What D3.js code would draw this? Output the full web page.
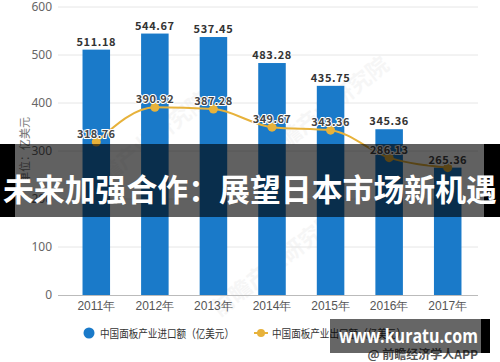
<!DOCTYPE html>
<html>
<head>
<meta charset="utf-8">
<script src="https://cdn.jsdelivr.net/npm/d3@7/dist/d3.min.js"></script>
<style>
  body { margin: 0; background: #fff; }
  svg { display: block; font-family: "Noto Sans CJK SC", "Noto Sans", sans-serif; }
</style>
</head>
<body>
<svg id="chart" width="500" height="362"></svg>
<script>
// data
const years = ["2011年", "2012年", "2013年", "2014年", "2015年", "2016年", "2017年"];
const importVals = [511.18, 544.67, 537.45, 483.28, 435.75, 345.36, 265.36];
const exportVals = [318.76, 390.92, 387.28, 349.67, 343.36, 286.13, 265.36];
const yTicks = [0, 100, 200, 300, 400, 500, 600];

const barColor = "#1a7ac9";
const lineColor = "#e7b23b";

const svg = d3.select("#chart");

const x = d3.scaleBand().domain(years).range([67, 477]).paddingInner(0.53).paddingOuter(0.265);
const y = d3.scaleLinear().domain([0, 600]).range([295, 7]);

// faint watermarks
[[150, 150], [330, 115], [280, 270]].forEach(function (p) {
  svg.append("text")
    .attr("transform", "translate(" + p[0] + "," + p[1] + ") rotate(-38)")
    .attr("text-anchor", "middle")
    .attr("font-size", 22)
    .attr("font-weight", "bold")
    .attr("fill", "#000")
    .attr("opacity", 0.03)
    .text("前瞻产业研究院");
});

// grid
svg.append("g").selectAll("line")
  .data(yTicks.filter(d => d > 0))
  .enter().append("line")
  .attr("x1", 58).attr("x2", 478)
  .attr("y1", d => y(d)).attr("y2", d => y(d))
  .attr("stroke", "#e6e6e6");

// y axis labels
const yAxis = d3.axisLeft(y).tickValues(yTicks).tickSize(0).tickPadding(6);
svg.append("g")
  .attr("transform", "translate(58,0)")
  .call(yAxis)
  .call(g => g.select(".domain").remove())
  .selectAll("text")
  .attr("font-size", 12)
  .attr("fill", "#666")
  .attr("font-family", "Noto Sans, sans-serif");

svg.append("text")
  .attr("transform", "translate(24,150) rotate(-90)")
  .attr("text-anchor", "middle")
  .attr("dominant-baseline", "central")
  .attr("font-size", 11)
  .attr("fill", "#777")
  .text("单位：亿美元");

// x axis
const xAxis = d3.axisBottom(x).tickSize(0).tickPadding(6);
svg.append("g")
  .attr("transform", "translate(0,295)")
  .call(xAxis)
  .call(g => g.select(".domain").attr("d", "M58,0.5H478").attr("stroke", "#bbb"))
  .selectAll("text")
  .attr("font-size", 12)
  .attr("fill", "#555");

// bars
svg.append("g").selectAll("rect")
  .data(importVals)
  .enter().append("rect")
  .attr("x", (d, i) => x(years[i]))
  .attr("width", x.bandwidth())
  .attr("y", d => y(d))
  .attr("height", d => y(0) - y(d))
  .attr("fill", barColor);

svg.append("g").selectAll("text")
  .data(importVals)
  .enter().append("text")
  .attr("x", (d, i) => x(years[i]) + x.bandwidth() / 2)
  .attr("y", d => y(d) - 9)
  .attr("text-anchor", "middle")
  .attr("dominant-baseline", "central")
  .attr("font-size", 11)
  .attr("font-weight", "bold")
  .attr("fill", "#333")
  .attr("letter-spacing", 0.6)
  .text(d => d.toFixed(2));

// line
const cx = i => x(years[i]) + x.bandwidth() / 2;
const line = d3.line()
  .x((d, i) => cx(i))
  .y(d => y(d))
  .curve(d3.curveMonotoneX);

svg.append("path")
  .datum(exportVals)
  .attr("d", line)
  .attr("fill", "none")
  .attr("stroke", lineColor)
  .attr("stroke-width", 2);

svg.append("g").selectAll("circle")
  .data(exportVals)
  .enter().append("circle")
  .attr("cx", (d, i) => cx(i))
  .attr("cy", d => y(d))
  .attr("r", 4.5)
  .attr("fill", lineColor);

svg.append("g").selectAll("text")
  .data(exportVals)
  .enter().append("text")
  .attr("x", (d, i) => cx(i))
  .attr("y", d => y(d) - 9)
  .attr("text-anchor", "middle")
  .attr("dominant-baseline", "central")
  .attr("font-size", 11)
  .attr("font-weight", "bold")
  .attr("fill", "#444")
  .attr("stroke", "#fff")
  .attr("stroke-width", 2)
  .attr("paint-order", "stroke")
  .attr("letter-spacing", 0.4)
  .text(d => d.toFixed(2));

// legend
svg.append("circle").attr("cx", 89).attr("cy", 333).attr("r", 5.5).attr("fill", barColor);
svg.append("text").attr("x", 100).attr("y", 333).attr("dominant-baseline", "central")
  .attr("font-size", 11.5).attr("fill", "#333")
  .attr("textLength", 134).attr("lengthAdjust", "spacingAndGlyphs")
  .text("中国面板产业进口额（亿美元）");
svg.append("line").attr("x1", 254).attr("x2", 268).attr("y1", 333).attr("y2", 333)
  .attr("stroke", lineColor).attr("stroke-width", 2);
svg.append("circle").attr("cx", 261).attr("cy", 333).attr("r", 4).attr("fill", lineColor);
svg.append("text").attr("x", 272).attr("y", 333).attr("dominant-baseline", "central")
  .attr("font-size", 11.5).attr("fill", "#333")
  .attr("textLength", 134).attr("lengthAdjust", "spacingAndGlyphs")
  .text("中国面板产业出口额（亿美元）");

// source
svg.append("text").attr("x", 478).attr("y", 353).attr("text-anchor", "end")
  .attr("dominant-baseline", "central")
  .attr("font-size", 12).attr("font-weight", "bold").attr("fill", "#555").text("@ 前瞻经济学人APP");

// banner overlay
svg.append("rect").attr("x", 15).attr("y", 144).attr("width", 469).attr("height", 73)
  .attr("fill", "#000").attr("opacity", 0.62);
svg.append("rect").attr("x", 0).attr("y", 144).attr("width", 15).attr("height", 73).attr("fill", "#000");
svg.append("rect").attr("x", 484).attr("y", 144).attr("width", 16).attr("height", 73).attr("fill", "#000");
svg.append("text").attr("x", 250).attr("y", 187).attr("text-anchor", "middle")
  .attr("dominant-baseline", "central")
  .attr("font-size", 31).attr("font-weight", "bold").attr("fill", "#fff")
  .attr("textLength", 494).attr("lengthAdjust", "spacingAndGlyphs")
  .text("未来加强合作：展望日本市场新机遇");

// site watermark box
svg.append("rect").attr("x", 330).attr("y", 319).attr("width", 151).attr("height", 34)
  .attr("fill", "#000").attr("opacity", 0.6);
svg.append("rect").attr("x", 481).attr("y", 319).attr("width", 9).attr("height", 34).attr("fill", "#000");
svg.append("text").attr("x", 408.5).attr("y", 336).attr("text-anchor", "middle")
  .attr("dominant-baseline", "central")
  .attr("font-size", 19).attr("font-weight", "bold").attr("fill", "#fff")
  .attr("font-family", "Open Sans, DejaVu Sans, sans-serif")
  .attr("textLength", 139).attr("lengthAdjust", "spacingAndGlyphs")
  .text("www.kuratu.com");
</script>
</body>
</html>
